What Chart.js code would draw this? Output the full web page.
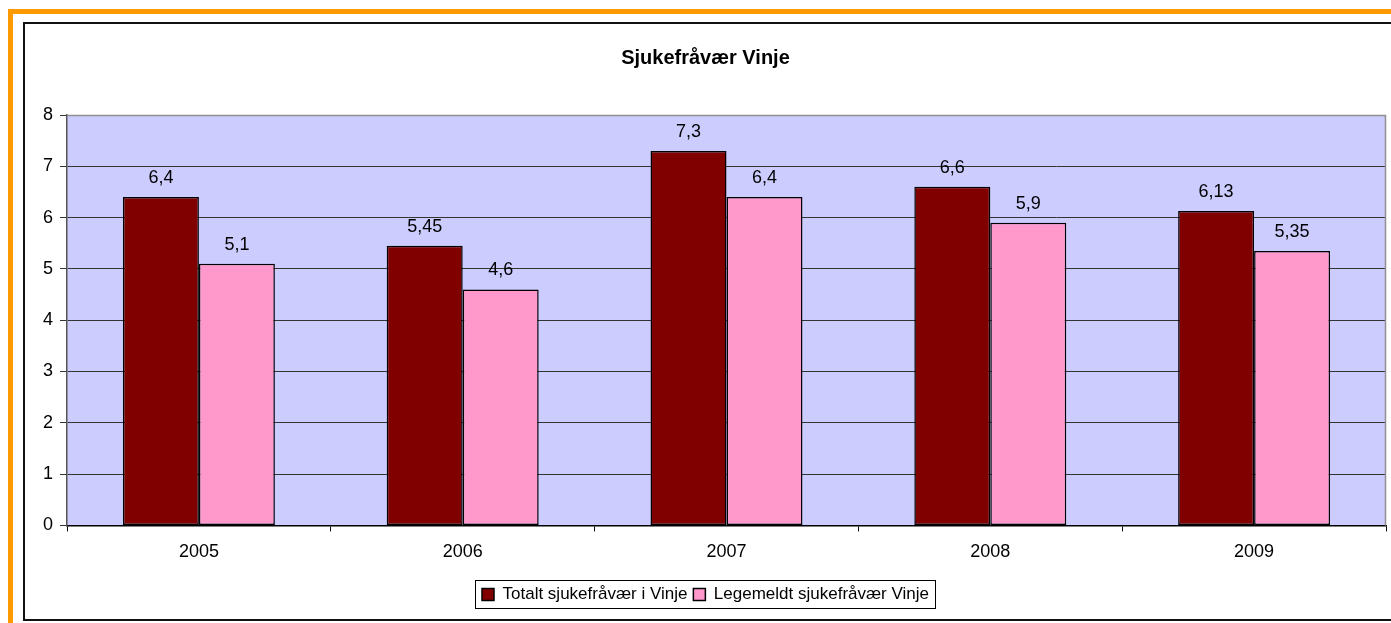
<!DOCTYPE html>
<html>
<head>
<meta charset="utf-8">
<script src="https://cdn.jsdelivr.net/npm/chart.js@4"></script>
<style>
  html, body { margin: 0; padding: 0; background: #fff; overflow: hidden; }
  #orange { position: absolute; left: 8px; top: 9px; width: 1500px; height: 700px;
            border-left: 5px solid #FF9900; border-top: 5px solid #FF9900; }
  #frame { position: absolute; left: 23px; top: 22px; width: 1500px; height: 595px;
           border: 2px solid #111; }
  #wrap { position: absolute; left: 0; top: 0; width: 1391px; height: 623px; }
</style>
</head>
<body>
<div id="orange"></div>
<div id="frame"></div>
<div id="wrap"><canvas id="chart-canvas" width="1391" height="623"></canvas></div>
<script>
const years = ['2005', '2006', '2007', '2008', '2009'];
const totalt = [6.4, 5.45, 7.3, 6.6, 6.13];
const legemeldt = [5.1, 4.6, 6.4, 5.9, 5.35];
const seriesNames = ['Totalt sjukefråvær i Vinje', 'Legemeldt sjukefråvær Vinje'];

const FONT = "'Liberation Sans', Arial, sans-serif";

// lavender plot background + grey top/right border
const plotArea = {
    id: 'plotArea',
    beforeDraw(chart) {
        const a = chart.chartArea, ctx = chart.ctx;
        ctx.save();
        ctx.fillStyle = '#CCCCFF';
        ctx.fillRect(a.left, a.top, a.right - a.left, a.bottom - a.top);
        ctx.restore();
    },
    afterDraw(chart) {
        const a = chart.chartArea, ctx = chart.ctx;
        ctx.save();
        ctx.strokeStyle = '#909090';
        ctx.lineWidth = 1.5;
        ctx.beginPath();
        ctx.moveTo(a.left, a.top + 0.5);
        ctx.lineTo(a.right - 0.5, a.top + 0.5);
        ctx.lineTo(a.right - 0.5, a.bottom);
        ctx.stroke();
        ctx.restore();
    }
};

// value labels above each bar, Norwegian decimal comma
const valueLabels = {
    id: 'valueLabels',
    afterDatasetsDraw(chart) {
        const ctx = chart.ctx;
        ctx.save();
        ctx.font = '18px ' + FONT;
        ctx.fillStyle = '#000';
        ctx.textAlign = 'center';
        ctx.textBaseline = 'middle';
        chart.data.datasets.forEach((ds, i) => {
            chart.getDatasetMeta(i).data.forEach((bar, j) => {
                ctx.fillText(String(ds.data[j]).replace('.', ','), bar.x, bar.y - 19);
            });
        });
        ctx.restore();
    }
};

// box round the legend
const legendBox = {
    id: 'legendBox',
    afterDraw(chart) {
        const boxes = chart.legend.legendHitBoxes;
        if (!boxes || !boxes.length) return;
        const left = Math.min(...boxes.map(b => b.left)) - 7;
        const right = Math.max(...boxes.map(b => b.left + b.width)) + 6;
        const top = boxes[0].top - 6;
        const bottom = boxes[0].top + boxes[0].height + 5;
        const ctx = chart.ctx;
        ctx.save();
        ctx.strokeStyle = '#000';
        ctx.lineWidth = 1;
        ctx.strokeRect(Math.round(left) + 0.5, Math.round(top) + 0.5,
                       Math.round(right - left), Math.round(bottom - top));
        ctx.restore();
    }
};

const data = {
    labels: years,
    datasets: [{
        label: seriesNames[0],
        data: totalt,
        backgroundColor: '#800000',
        borderColor: '#000',
        borderWidth: 1.5,
        borderSkipped: false
    }, {
        label: seriesNames[1],
        data: legemeldt,
        backgroundColor: '#FF99CC',
        borderColor: '#000',
        borderWidth: 1.5,
        borderSkipped: false
    }]
};

const config = {
    type: 'bar',
    data,
    options: {
        responsive: false,
        animation: false,
        datasets: { bar: { categoryPercentage: 0.576, barPercentage: 1 } },
        layout: { padding: { left: 25, right: 5, top: 0, bottom: 10 } },
        plugins: {
            title: {
                display: true,
                text: 'Sjukefråvær Vinje',
                color: '#000',
                font: { family: FONT, size: 20, weight: 'bold' },
                padding: { top: 46, bottom: 45 }
            },
            legend: {
                position: 'bottom',
                labels: {
                    color: '#000',
                    font: { family: FONT, size: 17 },
                    boxWidth: 12,
                    boxHeight: 12,
                    padding: 6
                }
            },
            tooltip: { enabled: false }
        },
        scales: {
            x: {
                afterFit(scale) { scale.height += 7; },
                grid: { drawOnChartArea: false, color: '#000', tickLength: 6, offset: true },
                border: { color: '#000', width: 1.5 },
                ticks: { color: '#000', font: { family: FONT, size: 18 }, padding: 10 }
            },
            y: {
                min: 0,
                max: 8,
                afterFit(scale) { scale.width = 42; },
                grid: { color: '#333', lineWidth: 1, tickLength: 7 },
                border: { color: '#555', width: 1.5 },
                ticks: { stepSize: 1, color: '#000', font: { family: FONT, size: 18 }, padding: 7 }
            }
        }
    },
    plugins: [plotArea, valueLabels, legendBox]
};

let myChart = new Chart(document.getElementById('chart-canvas'), config);
</script>
</body>
</html>
